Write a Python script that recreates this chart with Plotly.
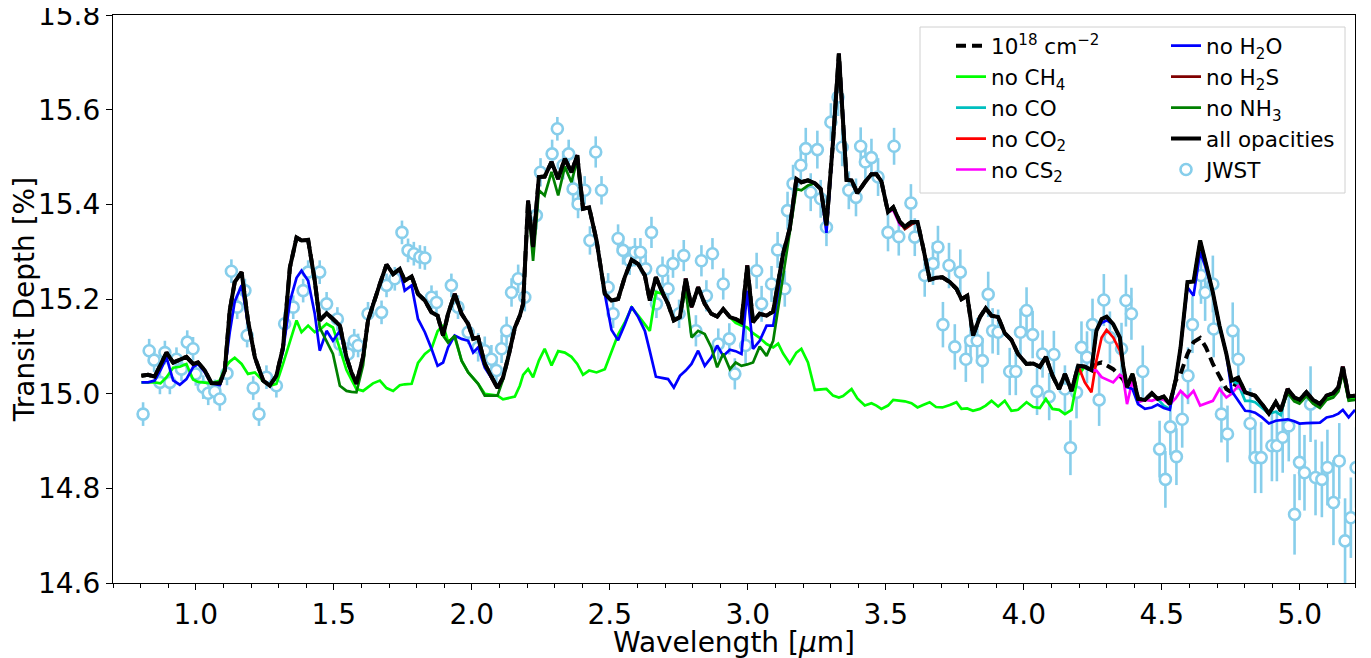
import plotly.graph_objects as go

# ---------------- model wavelength grid and "all opacities" spectrum ----------------
wl_model = [0.803, 0.827, 0.851, 0.872, 0.894, 0.918, 0.942, 0.966, 0.990, 1.008,
            1.033, 1.057, 1.087, 1.105, 1.123, 1.141, 1.166, 1.189, 1.214, 1.244,
            1.268, 1.292, 1.316, 1.341, 1.365, 1.383, 1.407, 1.431, 1.449, 1.474,
            1.497, 1.522, 1.546, 1.564, 1.582, 1.606, 1.624, 1.642, 1.667, 1.691,
            1.715, 1.739, 1.757, 1.782, 1.805, 1.830, 1.854, 1.876, 1.896, 1.914,
            1.938, 1.963, 1.987, 2.005, 2.023, 2.047, 2.071, 2.093, 2.113, 2.132,
            2.156, 2.174, 2.186, 2.204, 2.222, 2.243, 2.264, 2.289, 2.313, 2.337,
            2.361, 2.382, 2.403, 2.425, 2.452, 2.482, 2.506, 2.530, 2.554, 2.579,
            2.603, 2.627, 2.645, 2.667, 2.693, 2.711, 2.732, 2.754, 2.775, 2.796,
            2.820, 2.844, 2.868, 2.889, 2.911, 2.935, 2.956, 2.977, 2.998, 3.019,
            3.043, 3.068, 3.092, 3.110, 3.128, 3.152, 3.176, 3.194, 3.218, 3.243,
            3.264, 3.285, 3.309, 3.330, 3.345, 3.358, 3.376, 3.397, 3.424, 3.448,
            3.466, 3.484, 3.508, 3.527, 3.551, 3.569, 3.593, 3.615, 3.635, 3.659,
            3.682, 3.705, 3.732, 3.756, 3.774, 3.795, 3.816, 3.841, 3.862, 3.883,
            3.907, 3.931, 3.955, 3.979, 4.010, 4.034, 4.058, 4.080, 4.104, 4.128,
            4.149, 4.173, 4.197, 4.221, 4.245, 4.263, 4.282, 4.300, 4.324, 4.348,
            4.360, 4.374, 4.394, 4.414, 4.439, 4.464, 4.485, 4.507, 4.529, 4.550,
            4.568, 4.593, 4.615, 4.639, 4.660, 4.685, 4.709, 4.734, 4.753, 4.777,
            4.802, 4.820, 4.838, 4.863, 4.888, 4.913, 4.931, 4.956, 4.980, 4.999,
            5.024, 5.048, 5.073, 5.097, 5.121, 5.140, 5.156, 5.177, 5.200]

depth_all = [15.038, 15.040, 15.036, 15.062, 15.087, 15.066, 15.072, 15.078, 15.063, 15.066,
             15.049, 15.022, 15.022, 15.049, 15.176, 15.236, 15.257, 15.155, 15.077, 15.028,
             15.017, 15.038, 15.098, 15.267, 15.330, 15.324, 15.325, 15.239, 15.155, 15.170,
             15.158, 15.144, 15.077, 15.045, 15.021, 15.077, 15.155, 15.190, 15.232, 15.273,
             15.253, 15.264, 15.239, 15.248, 15.211, 15.197, 15.172, 15.165, 15.123, 15.169,
             15.211, 15.169, 15.147, 15.116, 15.119, 15.063, 15.034, 15.012, 15.034, 15.077,
             15.140, 15.165, 15.190, 15.408, 15.310, 15.458, 15.459, 15.490, 15.454, 15.497,
             15.468, 15.504, 15.391, 15.394, 15.324, 15.211, 15.197, 15.200, 15.246, 15.283,
             15.274, 15.250, 15.197, 15.246, 15.211, 15.190, 15.155, 15.162, 15.243, 15.183,
             15.225, 15.190, 15.169, 15.163, 15.179, 15.162, 15.158, 15.151, 15.271, 15.151,
             15.169, 15.165, 15.174, 15.239, 15.296, 15.349, 15.454, 15.447, 15.451, 15.445,
             15.433, 15.356, 15.535, 15.719, 15.585, 15.452, 15.451, 15.424, 15.447, 15.464,
             15.464, 15.449, 15.384, 15.394, 15.363, 15.353, 15.363, 15.363, 15.310, 15.241,
             15.245, 15.246, 15.236, 15.222, 15.200, 15.207, 15.123, 15.162, 15.181, 15.165,
             15.162, 15.128, 15.114, 15.084, 15.063, 15.064, 15.057, 15.078, 15.038, 15.010,
             15.042, 15.006, 15.059, 15.057, 15.050, 15.133, 15.158, 15.163, 15.147, 15.119,
             15.059, 15.014, 15.042, 14.989, 14.987, 15.001, 14.989, 14.994, 14.978, 15.028,
             15.098, 15.236, 15.237, 15.324, 15.275, 15.214, 15.144, 15.084, 15.028, 15.034,
             15.003, 15.000, 14.996, 14.978, 14.958, 14.982, 14.964, 15.010, 14.992, 14.987,
             15.003, 14.987, 14.978, 14.996, 15.001, 15.014, 15.057, 14.994, 14.996]

# ---------------- where the other models differ from "all opacities" ----------------
col18_diff = {4.245: 15.050, 4.263: 15.063, 4.282: 15.066, 4.300: 15.060, 4.324: 15.052,
              4.348: 15.038, 4.360: 15.030, 4.550: 15.028, 4.568: 15.042, 4.593: 15.084,
              4.615: 15.109, 4.639: 15.118, 4.660: 15.098, 4.685: 15.063, 4.709: 15.035,
              4.734: 15.010, 4.753: 15.003}

no_ch4_diff = {0.803: 15.024, 0.827: 15.024, 0.851: 15.024, 0.872: 15.022, 0.894: 15.035,
               0.918: 15.055, 0.942: 15.057, 0.966: 15.063, 0.990: 15.030, 1.008: 15.025,
               1.033: 15.023, 1.057: 15.022, 1.087: 15.028, 1.105: 15.055, 1.123: 15.068,
               1.141: 15.076, 1.166: 15.063, 1.189: 15.042, 1.214: 15.045, 1.244: 15.027,
               1.268: 15.017, 1.292: 15.021, 1.316: 15.063, 1.341: 15.112, 1.365: 15.155,
               1.383: 15.130, 1.407: 15.144, 1.431: 15.130, 1.449: 15.135, 1.474: 15.148,
               1.497: 15.140, 1.522: 15.095, 1.546: 15.050, 1.564: 15.030, 1.582: 15.010,
               1.606: 15.006, 1.624: 15.014, 1.642: 15.022, 1.667: 15.028, 1.691: 15.012,
               1.715: 15.006, 1.739: 15.018, 1.757: 15.020, 1.782: 15.021, 1.805: 15.065,
               1.830: 15.084, 1.854: 15.095, 1.876: 15.132, 1.896: 15.145, 1.914: 15.110,
               1.938: 15.119, 1.963: 15.070, 1.987: 15.045, 2.005: 15.033, 2.023: 15.021,
               2.047: 15.000, 2.071: 14.998, 2.093: 14.996, 2.113: 14.988, 2.132: 14.990,
               2.156: 14.994, 2.174: 15.017, 2.186: 15.040, 2.204: 15.052, 2.222: 15.035,
               2.243: 15.070, 2.264: 15.095, 2.289: 15.060, 2.313: 15.090, 2.337: 15.087,
               2.361: 15.078, 2.382: 15.063, 2.403: 15.040, 2.425: 15.049, 2.452: 15.045,
               2.482: 15.052, 2.506: 15.090, 2.530: 15.125, 2.554: 15.150, 2.579: 15.182,
               2.603: 15.165, 2.627: 15.146, 2.645: 15.133, 2.667: 15.215,
               2.956: 15.150, 2.977: 15.144, 2.998: 15.140, 3.019: 15.128, 3.043: 15.118,
               3.068: 15.105, 3.092: 15.098, 3.110: 15.106, 3.128: 15.085, 3.152: 15.064,
               3.176: 15.087, 3.194: 15.095, 3.218: 15.066, 3.243: 15.008, 3.264: 15.009,
               3.285: 15.010, 3.309: 14.996, 3.330: 14.992, 3.345: 14.995, 3.358: 15.002,
               3.376: 15.010, 3.397: 14.990, 3.424: 14.975, 3.448: 14.980, 3.466: 14.975,
               3.484: 14.968, 3.508: 14.975, 3.527: 14.987, 3.551: 14.985, 3.569: 14.984,
               3.593: 14.980, 3.615: 14.971, 3.635: 14.976, 3.659: 14.982, 3.682: 14.972,
               3.705: 14.971, 3.732: 14.976, 3.756: 14.982, 3.774: 14.968, 3.795: 14.969,
               3.816: 14.964, 3.841: 14.968, 3.862: 14.975, 3.883: 14.985, 3.907: 14.973,
               3.931: 14.985, 3.955: 14.964, 3.979: 14.966, 4.010: 14.982, 4.034: 14.972,
               4.058: 14.970, 4.080: 14.989, 4.104: 14.968, 4.128: 14.966, 4.149: 14.957,
               4.173: 14.966, 4.197: 15.040,
               4.956: 15.004, 4.980: 14.986, 4.999: 14.981, 5.024: 14.997, 5.048: 14.981,
               5.073: 14.972, 5.097: 14.990, 5.121: 14.995, 5.140: 15.008, 5.156: 15.048,
               5.177: 14.988, 5.200: 14.990}

no_co_diff = {4.507: 14.975, 4.529: 14.968, 4.777: 15.020, 4.802: 14.985, 4.820: 14.985,
              4.838: 14.982, 4.863: 14.970, 4.888: 14.958, 4.913: 14.962, 4.931: 14.955}

no_co2_diff = {4.221: 15.024, 4.245: 15.003, 4.263: 15.070, 4.282: 15.119, 4.300: 15.135,
               4.324: 15.119, 4.348: 15.091}

no_cs2_diff = {3.527: 15.388, 3.551: 15.357,
               4.263: 15.049, 4.282: 15.035, 4.300: 15.030, 4.324: 15.024, 4.348: 15.040,
               4.360: 15.035, 4.374: 14.978, 4.394: 15.028, 4.414: 14.982, 4.439: 14.987,
               4.464: 14.985, 4.485: 14.990, 4.507: 14.987, 4.529: 14.978, 4.550: 14.990,
               4.568: 15.006, 4.593: 14.992, 4.615: 15.006, 4.639: 14.975, 4.660: 14.980,
               4.685: 14.985, 4.709: 15.010, 4.734: 14.992, 4.753: 15.000, 4.777: 15.017}

no_h2o_diff = {0.803: 15.024, 0.827: 15.024, 0.851: 15.028, 0.872: 15.050, 0.894: 15.077,
               0.918: 15.028, 0.942: 15.019, 0.966: 15.031, 0.990: 15.056, 1.008: 15.063,
               1.033: 15.045, 1.087: 15.018, 1.105: 15.050, 1.123: 15.130, 1.141: 15.195,
               1.166: 15.229, 1.189: 15.150,
               1.316: 15.090, 1.341: 15.195, 1.365: 15.245, 1.383: 15.260, 1.407: 15.239,
               1.431: 15.169, 1.449: 15.091, 1.474: 15.133, 1.497: 15.112, 1.522: 15.133,
               1.757: 15.218, 1.782: 15.229, 1.805: 15.158, 1.830: 15.130, 1.854: 15.095,
               1.876: 15.059, 1.896: 15.066, 1.914: 15.098, 1.938: 15.123, 1.963: 15.116,
               1.987: 15.112, 2.005: 15.087, 2.023: 15.098, 2.047: 15.055,
               2.506: 15.135, 2.530: 15.113, 2.554: 15.146, 2.579: 15.184, 2.603: 15.162,
               2.627: 15.133, 2.645: 15.090, 2.667: 15.036, 2.693: 15.033, 2.711: 15.031,
               2.732: 15.013, 2.754: 15.038, 2.775: 15.049, 2.796: 15.063, 2.820: 15.091,
               2.844: 15.059, 2.868: 15.077, 2.889: 15.102, 2.911: 15.080, 2.935: 15.093,
               2.956: 15.090, 2.977: 15.084, 2.998: 15.218, 3.019: 15.095, 3.043: 15.112,
               3.068: 15.144, 3.092: 15.144, 3.110: 15.211, 3.285: 15.340,
               4.282: 15.150, 4.300: 15.155,
               4.394: 15.010, 4.414: 14.978, 4.439: 14.968, 4.464: 14.971, 4.485: 14.977,
               4.507: 14.970, 4.529: 14.966, 4.593: 15.225, 4.615: 15.207, 4.639: 15.300,
               4.660: 15.265, 4.753: 15.006, 4.777: 14.985, 4.802: 14.964, 4.820: 14.963,
               4.838: 14.960, 4.863: 14.950, 4.888: 14.937, 4.913: 14.943, 4.931: 14.944,
               4.956: 14.946, 4.980: 14.942, 4.999: 14.937, 5.024: 14.938, 5.048: 14.939,
               5.073: 14.939, 5.097: 14.950, 5.121: 14.953, 5.140: 14.958, 5.156: 14.966,
               5.177: 14.950, 5.200: 14.966}

no_h2s_diff = {3.569: 15.348, 3.593: 15.358}

no_nh3_diff = {1.449: 15.140, 1.474: 15.112, 1.497: 15.084, 1.522: 15.017, 1.546: 15.006,
               1.564: 15.004, 1.582: 15.003, 1.606: 15.060,
               1.914: 15.108, 1.938: 15.123, 1.963: 15.070, 1.987: 15.045, 2.005: 15.033,
               2.023: 15.021, 2.047: 14.996, 2.071: 14.996, 2.093: 14.996, 2.113: 15.030,
               2.222: 15.281, 2.243: 15.430, 2.264: 15.419, 2.289: 15.469, 2.313: 15.419,
               2.337: 15.480, 2.361: 15.447, 2.382: 15.494,
               2.775: 15.220, 2.796: 15.119, 2.820: 15.133, 2.844: 15.126, 2.868: 15.098,
               2.889: 15.056, 2.911: 15.085, 2.935: 15.052, 2.956: 15.066, 2.977: 15.059,
               2.998: 15.062, 3.019: 15.066, 3.043: 15.100, 3.068: 15.080, 3.092: 15.112,
               3.110: 15.179, 3.128: 15.253, 3.152: 15.340, 3.176: 15.433, 3.194: 15.430,
               3.218: 15.440,
               4.956: 15.002, 4.980: 14.984, 4.999: 14.979, 5.024: 14.995, 5.048: 14.979,
               5.073: 14.970, 5.097: 14.987, 5.121: 14.992, 5.140: 15.005, 5.156: 15.045,
               5.177: 14.985, 5.200: 14.987}

# ---------------- JWST data ----------------
jwst_wl = [0.809, 0.831, 0.849, 0.870, 0.888, 0.906, 0.930, 0.948, 0.969, 0.990,
           1.000, 1.027, 1.045, 1.069, 1.087, 1.113, 1.129, 1.150, 1.178, 1.186,
           1.208, 1.229, 1.256, 1.292, 1.322, 1.353, 1.389, 1.407, 1.449,
           1.474, 1.513, 1.522, 1.552, 1.574, 1.588, 1.624, 1.673, 1.691, 1.721,
           1.747, 1.769, 1.790, 1.812, 1.830, 1.854, 1.872, 1.926, 1.950, 1.987,
           2.023, 2.047, 2.071, 2.089, 2.108, 2.126, 2.144, 2.168, 2.192, 2.234,
           2.249, 2.291, 2.310, 2.331, 2.351, 2.367, 2.385, 2.409, 2.428, 2.449,
           2.470, 2.494, 2.512, 2.530, 2.548, 2.572, 2.591, 2.611, 2.630, 2.651,
           2.669, 2.691, 2.711, 2.729, 2.751, 2.768, 2.812, 2.832, 2.850, 2.872,
           2.893, 2.911, 2.933, 2.953,
           2.992, 3.032, 3.050, 3.086, 3.108, 3.134, 3.144, 3.164, 3.192, 3.210,
           3.228, 3.252, 3.264, 3.285, 3.301, 3.327, 3.342, 3.366, 3.392, 3.409,
           3.426, 3.448, 3.472, 3.508, 3.530, 3.547, 3.591, 3.605, 3.641, 3.671,
           3.689,
           3.707, 3.729, 3.750, 3.770, 3.790, 3.807, 3.831, 3.850, 3.871, 3.887,
           3.907, 3.949, 3.971, 3.988, 4.010, 4.032, 4.048, 4.068, 4.092, 4.109,
           4.149, 4.169, 4.191, 4.209, 4.229, 4.249, 4.273, 4.290, 4.312, 4.354,
           4.370, 4.390, 4.431,
           4.492, 4.513, 4.531, 4.553, 4.574, 4.595, 4.611, 4.642, 4.657, 4.685,
           4.688, 4.716, 4.738, 4.757, 4.777, 4.820, 4.838, 4.860, 4.899, 4.917,
           4.938, 4.960, 4.981, 4.999, 5.017, 5.039, 5.057, 5.080, 5.100, 5.122,
           5.143, 5.164, 5.185, 5.204]

jwst_depth = [14.957, 15.091, 15.071, 15.024, 15.087, 15.024, 15.073, 15.052, 15.109, 15.095,
              15.042, 15.014, 15.001, 15.005, 14.989, 15.043, 15.259, 15.183, 15.218, 15.123,
              15.012, 14.957, 15.035, 15.017, 15.148, 15.183, 15.218, 15.257, 15.257,
              15.190, 15.158, 15.105, 15.084, 15.112, 15.102, 15.169, 15.172, 15.229, 15.243,
              15.341, 15.303, 15.296, 15.289, 15.287, 15.204, 15.193, 15.229, 15.183, 15.130,
              15.098, 15.091, 15.073, 15.049, 15.095, 15.133, 15.214, 15.243, 15.204, 15.377,
              15.468, 15.507, 15.560, 15.483, 15.507, 15.433, 15.401, 15.430, 15.324, 15.511,
              15.430, 15.225, 15.169, 15.328, 15.303, 15.281, 15.299, 15.299, 15.264, 15.341,
              15.190, 15.260, 15.222, 15.275, 15.169, 15.292, 15.133, 15.281, 15.207, 15.296,
              15.105, 15.232, 15.116, 15.042,
              15.102, 15.260, 15.190, 15.232, 15.304, 15.222, 15.387, 15.444, 15.483, 15.518,
              15.426, 15.516, 15.412, 15.352, 15.574, 15.627, 15.521, 15.430, 15.415, 15.523,
              15.490, 15.499, 15.458, 15.341, 15.523, 15.332, 15.403, 15.331, 15.250, 15.275,
              15.310,
              15.146, 15.271, 15.099, 15.257, 15.073, 15.112, 15.112, 15.070, 15.210, 15.133,
              15.130, 15.047, 15.047, 15.130, 15.176, 15.125, 15.005, 15.084, 14.994, 15.083,
              15.010, 14.886, 15.003, 15.098, 15.077, 15.146, 14.987, 15.198, 15.119, 15.095,
              15.197, 15.169, 15.047,
              14.883, 14.819, 14.930, 14.867, 14.946, 15.038, 15.146, 15.250, 15.214, 15.232,
              15.137, 14.957, 14.915, 15.133, 15.073, 14.937, 14.865, 14.865, 14.890, 14.890,
              14.908, 14.932, 14.745, 14.855, 14.833, 14.978, 14.823, 14.819, 14.844, 14.770,
              14.858, 14.689, 14.738, 14.844]

jwst_err = [0.025, 0.025, 0.025, 0.025, 0.025, 0.025, 0.025, 0.025, 0.025, 0.025,
            0.025, 0.025, 0.025, 0.025, 0.025, 0.025, 0.025, 0.025, 0.025, 0.025,
            0.025, 0.025, 0.025, 0.025, 0.025, 0.025, 0.025, 0.025, 0.025,
            0.025, 0.025, 0.025, 0.025, 0.025, 0.025, 0.025, 0.025, 0.025, 0.025,
            0.025, 0.025, 0.025, 0.025, 0.025, 0.025, 0.025, 0.025, 0.025, 0.025,
            0.030, 0.030, 0.030, 0.030, 0.030, 0.030, 0.030, 0.030, 0.030, 0.030,
            0.030, 0.030, 0.025, 0.030, 0.030, 0.030, 0.030, 0.030, 0.030, 0.033,
            0.030, 0.030, 0.030, 0.030, 0.030, 0.030, 0.030, 0.030, 0.030, 0.033,
            0.030, 0.030, 0.030, 0.030, 0.030, 0.033, 0.033, 0.033, 0.033, 0.033,
            0.033, 0.033, 0.033, 0.033,
            0.038, 0.038, 0.038, 0.038, 0.038, 0.038, 0.040, 0.040, 0.040, 0.044,
            0.040, 0.040, 0.040, 0.040, 0.040, 0.040, 0.040, 0.040, 0.040, 0.040,
            0.040, 0.040, 0.040, 0.040, 0.039, 0.040, 0.040, 0.040, 0.045, 0.045,
            0.045,
            0.048, 0.048, 0.048, 0.048, 0.048, 0.048, 0.048, 0.048, 0.048, 0.048,
            0.048, 0.050, 0.050, 0.050, 0.049, 0.050, 0.050, 0.050, 0.050, 0.050,
            0.050, 0.058, 0.055, 0.055, 0.055, 0.055, 0.055, 0.055, 0.055, 0.055,
            0.055, 0.055, 0.055,
            0.060, 0.060, 0.060, 0.060, 0.060, 0.060, 0.060, 0.060, 0.060, 0.060,
            0.060, 0.060, 0.060, 0.060, 0.065, 0.075, 0.075, 0.075, 0.075, 0.075,
            0.075, 0.075, 0.085, 0.080, 0.080, 0.080, 0.080, 0.080, 0.080, 0.090,
            0.080, 0.090, 0.085, 0.085]

x_ticks = [1.0, 1.5, 2.0, 2.5, 3.0, 3.5, 4.0, 4.5, 5.0]
y_ticks = [14.6, 14.8, 15.0, 15.2, 15.4, 15.6, 15.8]


def model(diff):
    missing = [k for k in diff if k not in wl_model]
    if missing:
        print("missing keys", missing)
    return [diff.get(w, d) for w, d in zip(wl_model, depth_all)]


FONT = "DejaVu Sans"
SKY = "#87CEEB"

fig = go.Figure()

# JWST data (drawn beneath the models)
fig.add_trace(go.Scatter(
    x=jwst_wl, y=jwst_depth, mode="markers", name="JWST",
    error_y=dict(type="data", array=jwst_err, color=SKY, thickness=2.6, width=0),
    marker=dict(symbol="circle", size=11, color="white", line=dict(color=SKY, width=2.6)),
    legend="legend2", legendrank=5, legendgroup="jwst"))

models = [
    ("10<sup>18</sup> cm<sup>−2</sup>", col18_diff, "black", 4, "dash", "legend", 1),
    ("no CH<sub>4</sub>", no_ch4_diff, "#00FF00", 2.7, "solid", "legend", 2),
    ("no CO", no_co_diff, "#00BFBF", 2.7, "solid", "legend", 3),
    ("no CO<sub>2</sub>", no_co2_diff, "#FF0000", 2.7, "solid", "legend", 4),
    ("no CS<sub>2</sub>", no_cs2_diff, "#FF00FF", 2.7, "solid", "legend", 5),
    ("no H<sub>2</sub>O", no_h2o_diff, "#0000FF", 2.7, "solid", "legend2", 1),
    ("no H<sub>2</sub>S", no_h2s_diff, "#800000", 2.7, "solid", "legend2", 2),
    ("no NH<sub>3</sub>", no_nh3_diff, "#008000", 2.7, "solid", "legend2", 3),
    ("all opacities", {}, "black", 4, "solid", "legend2", 4),
]

for name, diff, color, width, dash, leg, rank in models:
    fig.add_trace(go.Scatter(
        x=wl_model, y=model(diff), mode="lines", name=name,
        line=dict(color=color, width=width, dash=("10px,6px" if dash == "dash" else "solid")),
        legend=leg, legendrank=rank, legendgroup=name))

# Page body has an 8px margin; the figure is sized so that the plot area
# lands at x 113..1355, y 15..583 of the 1371x658 window.
PLOT_W = 1242
PLOT_H = 568

# legend frame (matplotlib-style)
x_lo = (920 - 113) / PLOT_W
x_hi = (1345 - 113) / PLOT_W
y_hi = 1 - (27 - 15) / PLOT_H
y_lo = 1 - (193 - 15) / PLOT_H
fig.add_shape(type="rect", xref="paper", yref="paper", x0=x_lo, x1=x_hi, y0=y_lo, y1=y_hi,
              line=dict(color="#d0d0d0", width=1), fillcolor="white", layer="above")

# x-axis title placed below the tick labels
fig.add_annotation(text="Wavelength [<i>μ</i>m]", xref="paper", yref="paper",
                   x=0.5, y=-(642 - 583) / PLOT_H, xanchor="center", yanchor="middle",
                   showarrow=False, font=dict(family=FONT, size=28, color="black"))

legend_common = dict(xanchor="left", yanchor="top", bgcolor="rgba(0,0,0,0)",
                     borderwidth=0, font=dict(family=FONT, size=21.5, color="black"),
                     tracegroupgap=0, itemwidth=30)

fig.update_layout(
    width=1355, height=650,
    margin=dict(l=105, r=8, t=7, b=75),
    paper_bgcolor="white", plot_bgcolor="white",
    font=dict(family=FONT, size=28, color="black"),
    showlegend=True,
    legend=dict(x=(951 - 113) / PLOT_W, y=0.982, **legend_common),
    legend2=dict(x=(1166 - 113) / PLOT_W, y=0.982, **legend_common),
    xaxis=dict(
        range=[0.7, 5.2], tickvals=x_ticks, ticktext=[f"{v:.1f}" for v in x_ticks],
        ticks="outside", ticklen=6, tickwidth=1.2, tickcolor="black",
        minor=dict(dtick=0.1, tick0=0, ticks="outside", ticklen=3.5, tickwidth=1,
                   tickcolor="black", showgrid=False),
        showgrid=False, zeroline=False, showline=True, linecolor="black", linewidth=1.2,
        mirror=True, tickfont=dict(size=28), automargin=False,
        ticklabeloverflow="allow"),
    yaxis=dict(
        range=[14.6, 15.8005], tickvals=y_ticks, ticktext=[f"{v:.1f}" for v in y_ticks],
        ticks="outside", ticklen=6, tickwidth=1.2, tickcolor="black",
        showgrid=False, zeroline=False, showline=True, linecolor="black", linewidth=1.2,
        mirror=True, tickfont=dict(size=28), automargin=False,
        ticklabeloverflow="allow",
        title=dict(text="Transit Depth [%]", font=dict(size=28), standoff=4)),
)

fig.write_html("out.html")
